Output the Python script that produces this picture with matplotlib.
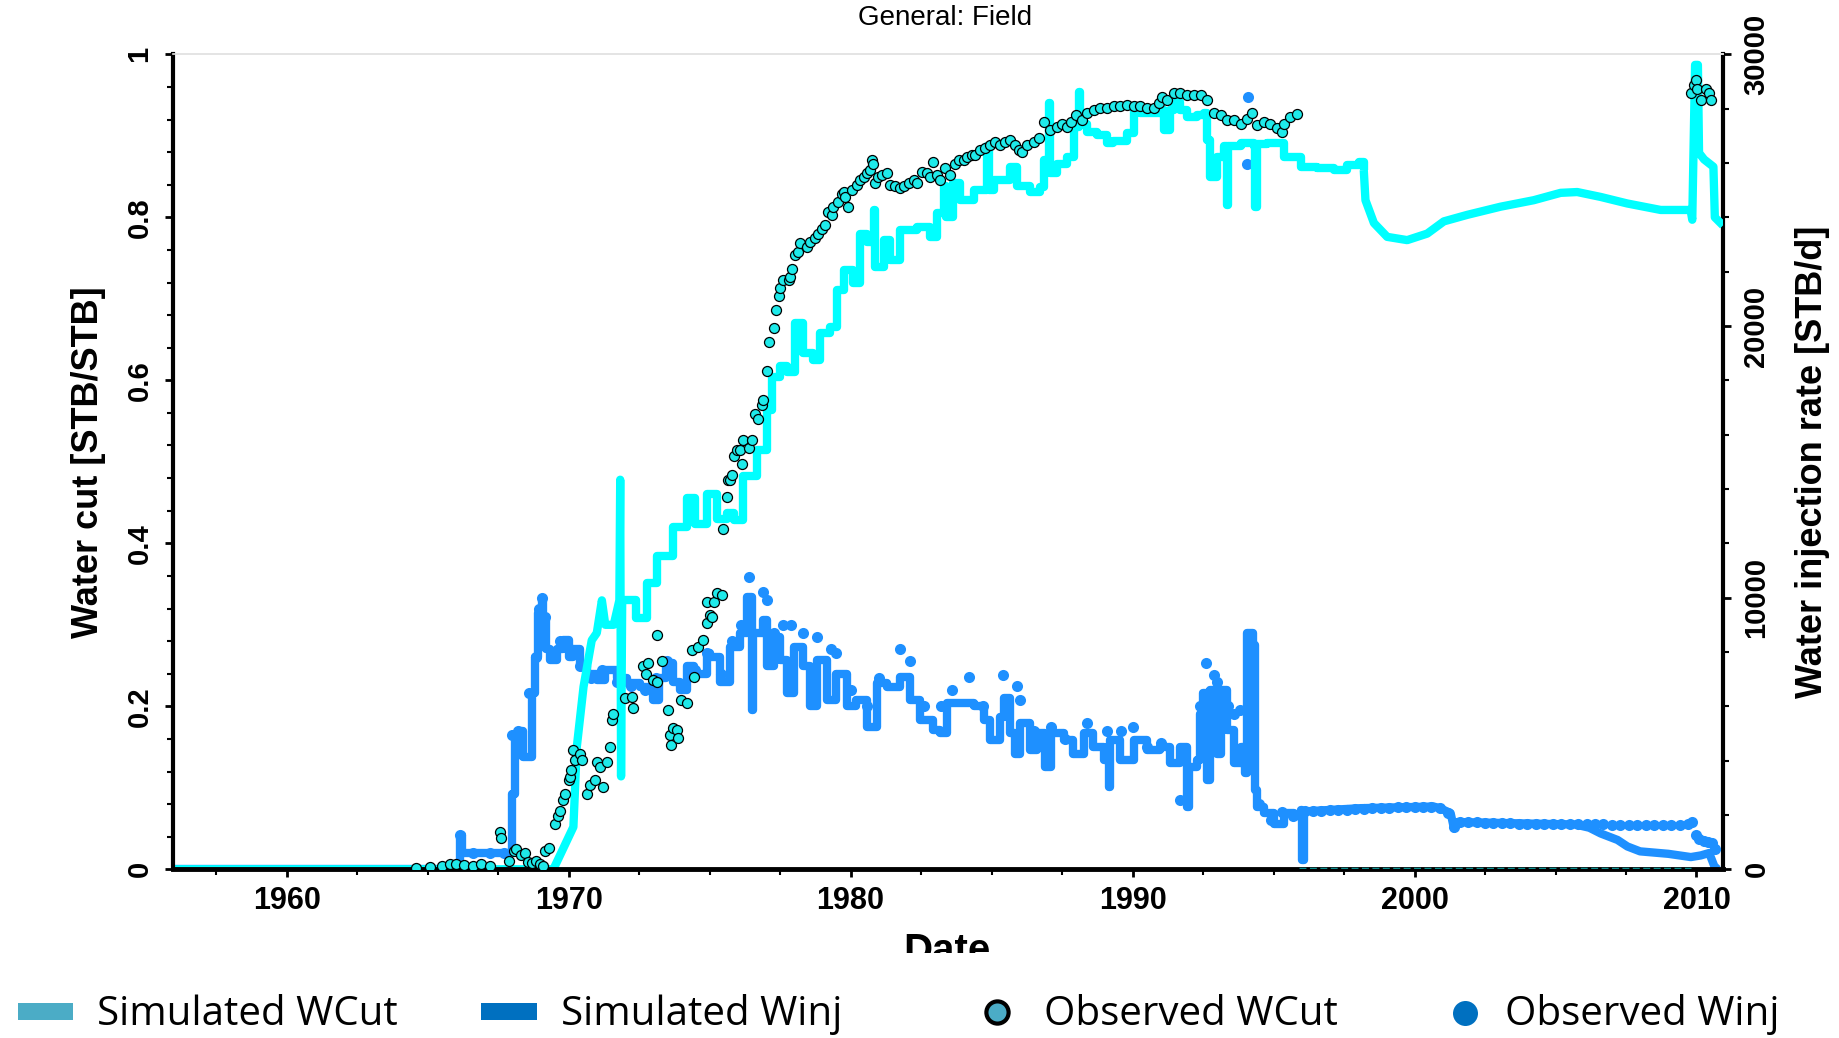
import matplotlib
matplotlib.use("Agg")
import matplotlib.pyplot as plt
from matplotlib.patches import Rectangle
from matplotlib.ticker import FixedLocator, MultipleLocator

plt.rcParams['font.family'] = ['Liberation Sans', 'DejaVu Sans']

# ---------------- data ----------------
title_text = "General: Field"
x_label = "Date"
y_left_label = "Water cut [STB/STB]"
y_right_label = "Water injection rate [STB/d]"

x_ticks = [1960, 1970, 1980, 1990, 2000, 2010]
wcut_ticks = [0, 0.2, 0.4, 0.6, 0.8, 1.0]
wcut_ticklabels = ["0", "0.2", "0.4", "0.6", "0.8", "1"]
winj_ticks = [0, 10000, 20000, 30000]
winj_ticklabels = ["0", "10000", "20000", "30000"]

legend_labels = ["Simulated WCut", "Simulated Winj", "Observed WCut", "Observed Winj"]

# Simulated water cut (fraction)
sim_wcut_year = [1956.0, 1969.46, 1970.17, 1970.29, 1970.53, 1970.82, 1971.0, 1971.18, 1971.3, 1971.6,
                 1971.8, 1971.83, 1971.86, 1971.9, 1972.06, 1972.4, 1972.77, 1973.12, 1973.71, 1974.19,
                 1974.5, 1974.9, 1975.25, 1975.6, 1975.85, 1976.2, 1976.68, 1977.03, 1977.21, 1977.5,
                 1977.74, 1978.03, 1978.33, 1978.68, 1978.92, 1979.27, 1979.51, 1979.75, 1980.1, 1980.34,
                 1980.6, 1980.8, 1980.82, 1980.87, 1981.17, 1981.4, 1981.76, 1982.35, 1982.83, 1983.06,
                 1983.3, 1983.4, 1983.65, 1983.89, 1984.36, 1984.8, 1984.84, 1984.9, 1985.07, 1985.66,
                 1985.9, 1986.38, 1986.73, 1986.85, 1987.0, 1987.03, 1987.09, 1987.32, 1987.68, 1987.91,
                 1988.06, 1988.09, 1988.15, 1988.38, 1988.74, 1989.1, 1989.3, 1989.8, 1990.04, 1990.27,
                 1990.75, 1990.98, 1991.1, 1991.34, 1991.46, 1991.7, 1991.93, 1992.28, 1992.52, 1992.64,
                 1992.76, 1993.0, 1993.23, 1993.33, 1993.35, 1993.4, 1993.83, 1994.3, 1994.33, 1994.4,
                 1994.77, 1995.36, 1995.96, 1996.55, 1997.13, 1997.61, 1998.02, 1998.2, 1998.26, 1998.56,
                 1999.03, 1999.74, 2000.45, 2001.04, 2001.87, 2003.05, 2004.23, 2005.18, 2005.77, 2006.6,
                 2007.54, 2008.73, 2009.79, 2009.85, 2009.95, 2010.05, 2010.09, 2010.27, 2010.6, 2010.65,
                 2010.94]
sim_wcut = [0.0, 0.0, 0.052, 0.150, 0.224, 0.281, 0.290, 0.330, 0.300, 0.300,
            0.330, 0.478, 0.114, 0.330, 0.330, 0.308, 0.351, 0.384, 0.420, 0.455,
            0.424, 0.461, 0.430, 0.437, 0.429, 0.482, 0.514, 0.564, 0.604, 0.617,
            0.610, 0.670, 0.633, 0.625, 0.658, 0.666, 0.711, 0.735, 0.719, 0.780,
            0.770, 0.780, 0.809, 0.739, 0.772, 0.748, 0.785, 0.788, 0.776, 0.805,
            0.838, 0.800, 0.842, 0.821, 0.834, 0.834, 0.887, 0.834, 0.846, 0.862,
            0.838, 0.831, 0.837, 0.870, 0.870, 0.940, 0.854, 0.866, 0.874, 0.911,
            0.911, 0.954, 0.915, 0.905, 0.901, 0.891, 0.894, 0.903, 0.932, 0.928,
            0.928, 0.932, 0.907, 0.932, 0.942, 0.932, 0.923, 0.926, 0.928, 0.895,
            0.850, 0.874, 0.887, 0.887, 0.815, 0.887, 0.891, 0.887, 0.813, 0.890,
            0.891, 0.874, 0.862, 0.860, 0.858, 0.864, 0.868, 0.858, 0.821, 0.793,
            0.776, 0.772, 0.780, 0.795, 0.803, 0.813, 0.821, 0.830, 0.831, 0.825,
            0.817, 0.809, 0.809, 0.797, 0.987, 0.987, 0.879, 0.871, 0.862, 0.800,
            0.790]

# Simulated water injection rate (STB/d)
sim_winj_year = [1956.0, 1966.12, 1966.15, 1966.22, 1967.98, 1968.0, 1968.1, 1968.25, 1968.4, 1968.64,
                 1968.7, 1968.82, 1968.93, 1969.05, 1969.1, 1969.2, 1969.34, 1969.6, 1969.81, 1970.0,
                 1970.17, 1970.4, 1970.64, 1971.0, 1971.3, 1971.7, 1972.06, 1972.53, 1973.0, 1973.2,
                 1973.47, 1973.7, 1973.95, 1974.2, 1974.43, 1974.67, 1974.9, 1975.02, 1975.37, 1975.73,
                 1976.08, 1976.32, 1976.45, 1976.5, 1976.55, 1976.8, 1976.91, 1977.03, 1977.27, 1977.5,
                 1977.74, 1977.98, 1978.33, 1978.57, 1978.8, 1979.15, 1979.5, 1979.86, 1980.2, 1980.57,
                 1980.92, 1981.3, 1981.76, 1982.1, 1982.47, 1982.94, 1983.18, 1983.41, 1983.89, 1984.36,
                 1984.72, 1984.96, 1985.31, 1985.43, 1985.66, 1985.84, 1986.0, 1986.38, 1986.6, 1986.9,
                 1987.1, 1987.56, 1987.9, 1988.27, 1988.6, 1988.98, 1989.15, 1989.2, 1989.55, 1990.04,
                 1990.5, 1990.98, 1991.34, 1991.7, 1991.93, 1992.0, 1992.28, 1992.4, 1992.5, 1992.64,
                 1992.76, 1993.0, 1993.12, 1993.35, 1993.59, 1993.83, 1993.98, 1994.05, 1994.27, 1994.36,
                 1994.4, 1994.66, 1995.01, 1995.36, 1995.72, 1995.96, 1996.0, 1996.08, 1998.08, 2000.68,
                 2000.9, 2001.28, 2001.4, 2001.52, 2004.23, 2005.7, 2006.2, 2006.6, 2007.2, 2007.55,
                 2008.0, 2009.0, 2009.8, 2010.15, 2010.45, 2010.63, 2010.75]
sim_winj = [0, 0, 1260, 600, 600, 2790, 4890, 5100, 4140, 4140,
            6480, 7830, 9420, 9900, 9300, 8100, 7710, 8100, 8430, 7800,
            8100, 7500, 7200, 6960, 7350, 7050, 6840, 6720, 6240, 7050,
            7590, 6900, 6600, 7500, 7200, 7200, 7950, 7830, 6900, 8190,
            8700, 10020, 10020, 5850, 8700, 8700, 9180, 7500, 8550, 7710,
            6480, 8190, 7470, 6000, 7710, 6240, 7200, 6000, 6240, 5250,
            6840, 6720, 7080, 6240, 5490, 5130, 5010, 6120, 6120, 6000,
            5490, 4770, 5610, 6300, 5010, 4260, 5400, 4380, 5010, 3780,
            5010, 4770, 4260, 5010, 4500, 4020, 3030, 4770, 4020, 4770,
            4380, 4500, 3900, 4500, 2310, 3780, 4020, 5730, 6480, 3300,
            6600, 4260, 6600, 5130, 3900, 4500, 3540, 8700, 8250, 2910,
            2310, 2070, 1680, 2070, 1950, 2190, 330, 2130, 2250, 2310,
            2250, 2070, 1500, 1740, 1680, 1650, 1530, 1320, 1080, 840,
            660, 570, 450, 510, 600, 120, 0]

# Observed water cut (fraction)
obs_wcut_year = [1964.6, 1965.1, 1965.5, 1965.8, 1966.0, 1966.3, 1966.6, 1966.9, 1967.2, 1967.55,
                 1967.6, 1967.9, 1968.05, 1968.15, 1968.3, 1968.45, 1968.55, 1968.7, 1968.85, 1969.0,
                 1969.1, 1969.17, 1969.3, 1969.52, 1969.64, 1969.7, 1969.81, 1969.86, 1970.0, 1970.05,
                 1970.1, 1970.17, 1970.22, 1970.4, 1970.47, 1970.64, 1970.76, 1970.94, 1971.0, 1971.1,
                 1971.23, 1971.35, 1971.47, 1971.53, 1971.58, 1972.0, 1972.24, 1972.3, 1972.65, 1972.75,
                 1972.83, 1973.0, 1973.12, 1973.15, 1973.3, 1973.54, 1973.6, 1973.62, 1973.71, 1973.83,
                 1973.89, 1974.0, 1974.2, 1974.36, 1974.43, 1974.6, 1974.78, 1974.9, 1974.92, 1975.0,
                 1975.07, 1975.14, 1975.25, 1975.43, 1975.49, 1975.6, 1975.67, 1975.73, 1975.79, 1975.85,
                 1975.96, 1976.08, 1976.14, 1976.2, 1976.38, 1976.5, 1976.62, 1976.73, 1976.85, 1976.91,
                 1977.03, 1977.12, 1977.27, 1977.36, 1977.45, 1977.5, 1977.62, 1977.8, 1977.86, 1977.92,
                 1978.03, 1978.15, 1978.21, 1978.45, 1978.57, 1978.74, 1978.86, 1978.98, 1979.09, 1979.2,
                 1979.33, 1979.39, 1979.57, 1979.69, 1979.75, 1979.8, 1979.92, 1980.04, 1980.22, 1980.34,
                 1980.46, 1980.57, 1980.69, 1980.75, 1980.81, 1980.87, 1980.99, 1981.11, 1981.29, 1981.41,
                 1981.59, 1981.77, 1981.88, 1982.06, 1982.24, 1982.36, 1982.53, 1982.71, 1982.83, 1982.94,
                 1983.06, 1983.18, 1983.36, 1983.54, 1983.71, 1983.83, 1984.01, 1984.13, 1984.31, 1984.42,
                 1984.6, 1984.78, 1984.96, 1985.13, 1985.31, 1985.49, 1985.67, 1985.84, 1985.96, 1986.08,
                 1986.26, 1986.49, 1986.67, 1986.85, 1987.09, 1987.32, 1987.5, 1987.68, 1987.8, 1987.98,
                 1988.21, 1988.39, 1988.62, 1988.86, 1989.1, 1989.33, 1989.57, 1989.81, 1990.04, 1990.28,
                 1990.52, 1990.75, 1990.93, 1991.05, 1991.23, 1991.46, 1991.7, 1991.94, 1992.17, 1992.41,
                 1992.65, 1992.88, 1993.12, 1993.36, 1993.59, 1993.83, 1994.07, 1994.24, 1994.42, 1994.65,
                 1994.89, 1995.13, 1995.31, 1995.36, 1995.6, 1995.84, 2009.8, 2009.91, 2009.97, 2010.03,
                 2010.15, 2010.33, 2010.44, 2010.5]
obs_wcut = [0.002, 0.003, 0.004, 0.006, 0.007, 0.005, 0.004, 0.006, 0.004, 0.046,
            0.038, 0.010, 0.022, 0.025, 0.018, 0.020, 0.009, 0.008, 0.010, 0.007,
            0.004, 0.022, 0.026, 0.056, 0.065, 0.071, 0.085, 0.093, 0.110, 0.113,
            0.122, 0.146, 0.134, 0.142, 0.134, 0.093, 0.103, 0.109, 0.132, 0.126,
            0.101, 0.132, 0.150, 0.183, 0.190, 0.210, 0.212, 0.198, 0.249, 0.240,
            0.253, 0.232, 0.230, 0.287, 0.256, 0.196, 0.165, 0.153, 0.173, 0.171,
            0.161, 0.208, 0.204, 0.269, 0.236, 0.273, 0.281, 0.302, 0.328, 0.312,
            0.310, 0.328, 0.339, 0.337, 0.417, 0.457, 0.478, 0.478, 0.484, 0.507,
            0.514, 0.514, 0.497, 0.527, 0.517, 0.527, 0.559, 0.552, 0.570, 0.576,
            0.611, 0.647, 0.664, 0.686, 0.703, 0.713, 0.723, 0.723, 0.727, 0.737,
            0.754, 0.758, 0.768, 0.764, 0.770, 0.774, 0.780, 0.786, 0.790, 0.807,
            0.803, 0.813, 0.819, 0.829, 0.831, 0.825, 0.813, 0.834, 0.840, 0.846,
            0.850, 0.854, 0.858, 0.870, 0.866, 0.842, 0.850, 0.852, 0.854, 0.840,
            0.838, 0.836, 0.838, 0.842, 0.846, 0.842, 0.856, 0.854, 0.850, 0.868,
            0.852, 0.846, 0.860, 0.852, 0.866, 0.870, 0.870, 0.874, 0.876, 0.876,
            0.882, 0.885, 0.889, 0.893, 0.889, 0.893, 0.895, 0.889, 0.882, 0.880,
            0.889, 0.893, 0.897, 0.917, 0.907, 0.911, 0.915, 0.911, 0.917, 0.925,
            0.919, 0.928, 0.932, 0.934, 0.934, 0.936, 0.936, 0.938, 0.936, 0.936,
            0.934, 0.934, 0.940, 0.948, 0.944, 0.952, 0.952, 0.950, 0.950, 0.950,
            0.944, 0.928, 0.925, 0.919, 0.919, 0.915, 0.921, 0.928, 0.913, 0.917,
            0.915, 0.909, 0.905, 0.915, 0.923, 0.927, 0.952, 0.962, 0.968, 0.958,
            0.944, 0.958, 0.952, 0.944]
# Observed water cut reported as zero between these dates
obs_wcut_zero_year = [1995.9, 2009.8]
obs_wcut_zero = [0.0, 0.0]

# Observed water injection rate (STB/d)
obs_winj_year = [1966.15, 1966.6, 1967.2, 1967.7, 1968.0, 1968.2, 1968.6, 1968.85, 1968.95, 1969.05,
                 1969.15, 1969.4, 1969.7, 1970.0, 1970.4, 1970.8, 1971.2, 1971.7, 1972.2, 1972.7,
                 1973.1, 1973.5, 1974.0, 1974.5, 1974.9, 1975.4, 1975.8, 1976.1, 1976.38, 1976.9,
                 1977.03, 1977.3, 1977.6, 1977.9, 1978.3, 1978.8, 1979.3, 1979.5, 1980.0, 1980.6,
                 1981.0, 1981.76, 1982.1, 1982.6, 1983.2, 1983.6, 1984.2, 1984.7, 1985.4, 1985.9,
                 1986.0, 1986.5, 1987.1, 1987.6, 1988.4, 1989.1, 1989.6, 1990.0, 1990.5, 1991.0,
                 1991.7, 1992.4, 1992.59, 1992.9, 1993.0, 1993.4, 1993.6, 1993.8, 1994.06, 1994.1,
                 1994.15, 1994.5, 1994.9, 1995.3, 1995.7, 1996.1, 1996.4, 1996.7, 1997.0, 1997.3,
                 1997.6, 1997.9, 1998.2, 1998.5, 1998.8, 1999.1, 1999.4, 1999.7, 2000.0, 2000.3,
                 2000.6, 2000.9, 2001.2, 2001.4, 2001.6, 2001.9, 2002.2, 2002.5, 2002.8, 2003.1,
                 2003.4, 2003.7, 2004.0, 2004.3, 2004.6, 2004.9, 2005.2, 2005.5, 2005.8, 2006.1,
                 2006.4, 2006.7, 2007.0, 2007.3, 2007.6, 2007.9, 2008.2, 2008.5, 2008.8, 2009.1,
                 2009.4, 2009.7, 2009.85, 2010.0, 2010.1, 2010.25, 2010.4, 2010.55, 2010.65]
obs_winj = [1260, 600, 600, 600, 4950, 5100, 6480, 7800, 9600, 9990,
            9300, 7800, 8400, 8100, 7500, 7050, 7350, 6900, 6750, 6600,
            7050, 7650, 6750, 7350, 7950, 7200, 8400, 9000, 10770, 10200,
            9900, 8700, 9000, 9000, 8700, 8550, 8100, 7950, 6600, 6000,
            7050, 8100, 7680, 6000, 6000, 6600, 7080, 6000, 7140, 6750,
            6240, 5100, 5250, 4800, 5400, 5100, 5100, 5250, 4500, 4650,
            2550, 6000, 7590, 7140, 6900, 6000, 5700, 5850, 25980, 28440,
            8100, 2400, 1800, 2100, 1980, 2130, 2160, 2160, 2190, 2190,
            2190, 2220, 2220, 2250, 2250, 2250, 2280, 2280, 2280, 2310,
            2310, 2250, 2070, 1560, 1740, 1740, 1740, 1710, 1710, 1710,
            1710, 1680, 1680, 1680, 1680, 1680, 1650, 1650, 1650, 1650,
            1650, 1650, 1620, 1620, 1620, 1620, 1620, 1620, 1620, 1620,
            1620, 1650, 1740, 1260, 1110, 1050, 990, 960, 750]

# year ranges over which the simulator output is drawn as steps
wcut_step_range = (1971.9, 1998.2)
winj_step_range = (1966.0, 1996.08)

# ---------------- figure ----------------
W, H = 1839, 1038
fig = plt.figure(figsize=(W / 100, H / 100), dpi=100)
L, R, T, B = 173, 1723, 54.3, 869.3
ax = fig.add_axes([L / W, 1 - B / H, (R - L) / W, (B - T) / H])
ax2 = ax.twinx()
ax.set_zorder(ax2.get_zorder() + 1)
ax.patch.set_visible(False)

CYAN = "#00FFFF"
BLUE = "#1E90FF"


def split_plot(a, xs, ys, rng, **kw):
    i0 = next(i for i, x in enumerate(xs) if x >= rng[0])
    i1 = next(i for i, x in enumerate(xs) if x >= rng[1])
    a.plot(xs[:i0 + 1], ys[:i0 + 1], **kw)
    a.plot(xs[i0:i1 + 1], ys[i0:i1 + 1], drawstyle="steps-post", **kw)
    a.plot(xs[i1:], ys[i1:], **kw)


split_plot(ax2, sim_winj_year, sim_winj, winj_step_range, color=BLUE, lw=6, zorder=2,
           solid_joinstyle="round", solid_capstyle="butt")
ax2.plot(obs_winj_year, obs_winj, linestyle="none", marker="o", ms=8,
         mfc=BLUE, mec=BLUE, mew=0, zorder=3)

split_plot(ax, sim_wcut_year, sim_wcut, wcut_step_range, color=CYAN, lw=6, zorder=2,
           solid_joinstyle="round", solid_capstyle="butt")
ax.plot(obs_wcut_zero_year, obs_wcut_zero, color="#0B8F8F", lw=2.5, ls=(0, (2, 1)), zorder=3)
ax.plot(obs_wcut_year, obs_wcut, linestyle="none", marker="o", ms=7.2,
        mfc="#1EEAEA", mec="black", mew=0.9, zorder=4)

ax.set_xlim(1955.97, 2010.94)
ax.set_ylim(0, 1)
ax2.set_ylim(0, 30000)

ax.xaxis.set_major_locator(FixedLocator(x_ticks))
ax.set_xticklabels([str(t) for t in x_ticks])
ax.xaxis.set_minor_locator(MultipleLocator(2.5))
ax.yaxis.set_major_locator(FixedLocator(wcut_ticks))
ax.set_yticklabels(wcut_ticklabels)
ax.yaxis.set_minor_locator(MultipleLocator(0.04))
ax2.yaxis.set_major_locator(FixedLocator(winj_ticks))
ax2.set_yticklabels(winj_ticklabels)
ax2.yaxis.set_minor_locator(MultipleLocator(2000))

ax.tick_params(axis="x", which="major", direction="out", length=6, width=2, labelsize=22, pad=6)
ax.tick_params(axis="x", which="minor", direction="out", length=4, width=1.5)
ax.tick_params(axis="y", which="major", direction="out", length=6, width=2, labelsize=21, pad=8)
ax.tick_params(axis="y", which="minor", direction="out", length=4.5, width=1.5)
ax2.tick_params(axis="y", which="major", direction="out", length=6, width=2, labelsize=21, pad=8)
ax2.tick_params(axis="y", which="minor", direction="out", length=4.5, width=1.5)

for lab in ax.get_xticklabels():
    lab.set_fontweight("bold")
for lab in ax.get_yticklabels():
    lab.set_fontweight("bold")
    lab.set_rotation(90)
    lab.set_va("center")
    lab.set_ha("right")
for lab in ax2.get_yticklabels():
    lab.set_fontweight("bold")
    lab.set_rotation(90)
    lab.set_va("center")
    lab.set_ha("left")

for a in (ax, ax2):
    a.spines["top"].set_color("#e4e4e4")
    a.spines["top"].set_linewidth(1.2)
ax.spines["left"].set_linewidth(3)
ax.spines["bottom"].set_linewidth(3.5)
ax.spines["right"].set_visible(False)
ax2.spines["left"].set_visible(False)
ax2.spines["bottom"].set_visible(False)
ax2.spines["right"].set_linewidth(3)

ax.set_ylabel(y_left_label, fontsize=26, fontweight="bold", labelpad=14)
ax2.set_ylabel(y_right_label, fontsize=26, fontweight="bold", rotation=90, labelpad=18)

# ---------------- overlay: title, clipped x label, legend ----------------
ov = fig.add_axes([0, 0, 1, 1], zorder=20)
ov.set_xlim(0, W)
ov.set_ylim(H, 0)
ov.set_axis_off()
ov.patch.set_visible(False)

ov.text(945, 18, title_text, fontsize=20, ha="center", va="center")
ov.text(947, 962, x_label, fontsize=29, fontweight="bold", ha="center", va="baseline")
ov.add_patch(Rectangle((850, 953), 200, 40, facecolor="white", edgecolor="none", zorder=5))

lfont = dict(family=["Open Sans", "DejaVu Sans"], fontsize=29, va="baseline", ha="left")
ov.add_patch(Rectangle((18, 1003), 55, 17, facecolor="#4BACC6", edgecolor="none", zorder=6))
ov.text(97, 1025, legend_labels[0], zorder=6, **lfont)
ov.add_patch(Rectangle((481, 1003), 56, 17, facecolor="#0070C0", edgecolor="none", zorder=6))
ov.text(561, 1025, legend_labels[1], zorder=6, **lfont)
ov.plot([997], [1012], marker="o", ms=16, mfc="#4BACC6", mec="black", mew=3, zorder=6)
ov.text(1044, 1025, legend_labels[2], zorder=6, **lfont)
ov.plot([1465], [1013], marker="o", ms=18, mfc="#0070C0", mec="#0070C0", mew=0, zorder=6)
ov.text(1505, 1025, legend_labels[3], zorder=6, **lfont)

fig.savefig("out.png", dpi=100)
